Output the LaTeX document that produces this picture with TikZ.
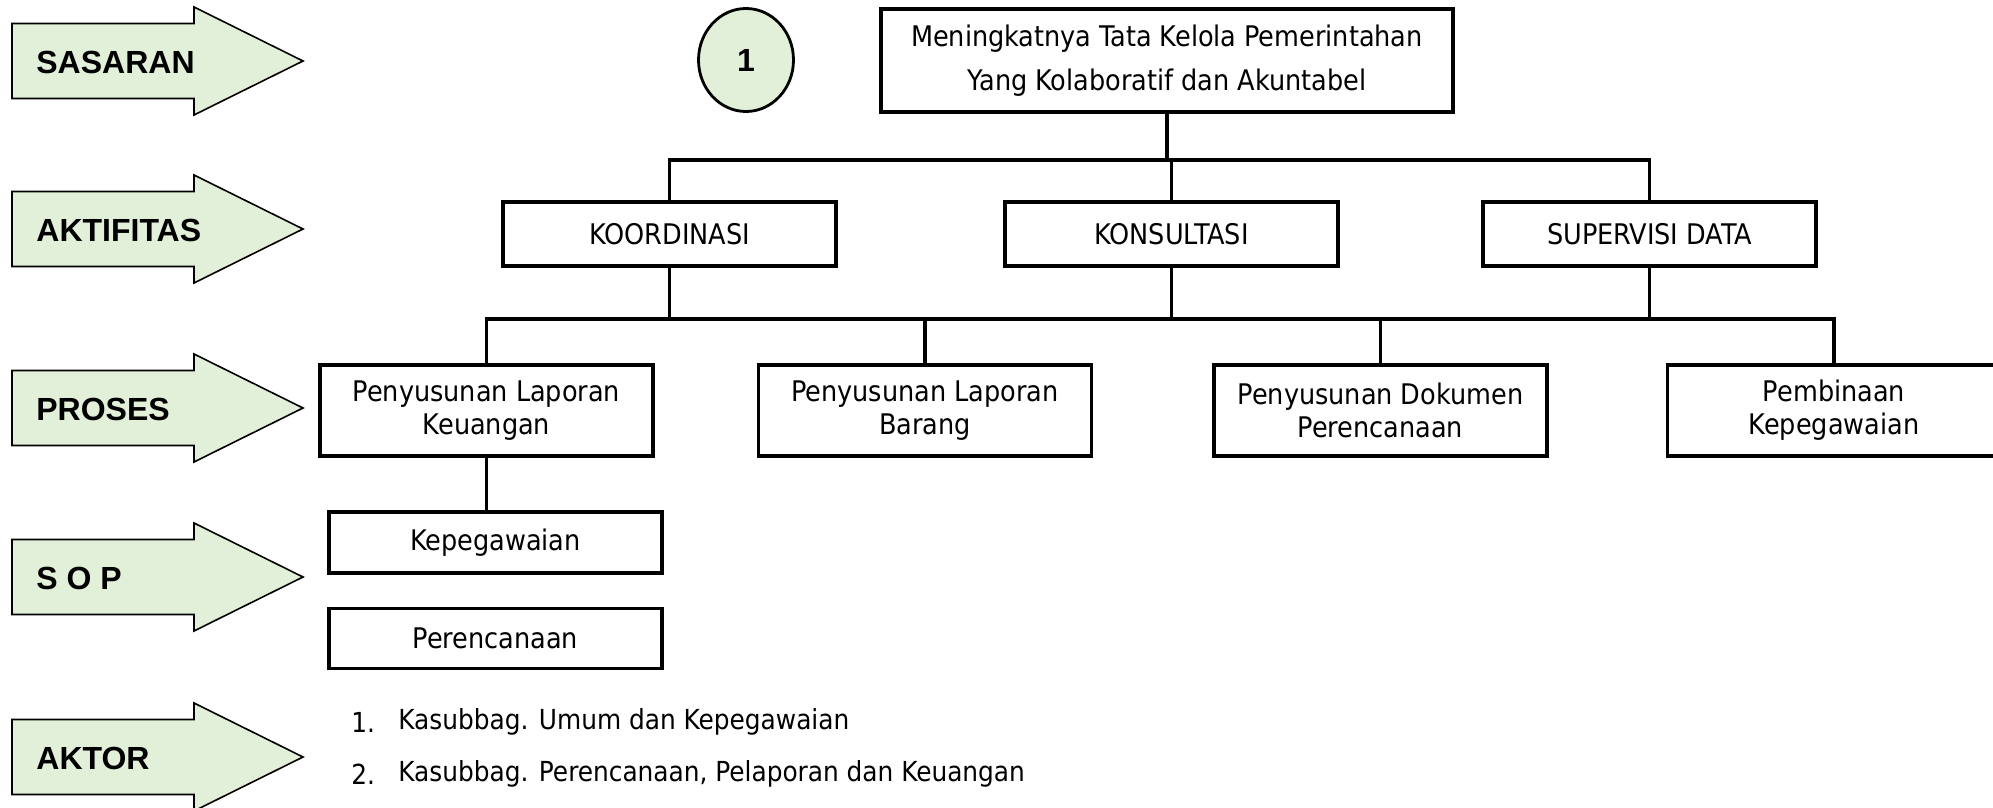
\documentclass[tikz,border=0pt]{standalone}
\usepackage{fontspec}
\usetikzlibrary{positioning,shapes.geometric}
\newfontfamily\boxfont{DejaVu Sans Condensed}
\newfontfamily\tagfont{Liberation Sans}
\definecolor{tagfill}{HTML}{E2EFD9}

\begin{document}
\begin{tikzpicture}[x=0.5pt, y=-0.5pt,
  box/.style={draw, line width=1.6pt, minimum width=166.5pt, align=center, inner sep=2pt,
    font=\boxfont\fontsize{14.2}{16.5}\selectfont},
  tag/.style={anchor=west, inner sep=0pt, font=\tagfont\bfseries\fontsize{16}{18}\selectfont},
  item/.style={anchor=west, inner sep=0pt, font=\boxfont\fontsize{13.8}{16.5}\selectfont},
  link/.style={line width=1.6pt}]
  \useasboundingbox (0,0) rectangle (1993,808);

  % left side arrows
  \foreach \yc/\txt/\nm in {61/SASARAN/sas, 229/AKTIFITAS/akt, 408/PROSES/pro, 577/S O P/sop, 757/AKTOR/aktor} {
    \draw[fill=tagfill, line width=0.8pt] (12,\yc-37.5) -- (194,\yc-37.5) -- (194,\yc-54)
      -- (303,\yc) -- (194,\yc+54) -- (194,\yc+37.5) -- (12,\yc+37.5) -- cycle;
    \node[tag] (tag-\nm) at (36,\yc+1) {\txt};
  }

  % sasaran
  \node[ellipse, draw, fill=tagfill, line width=1.4pt, minimum width=47.5pt, minimum height=51.5pt,
    font=\tagfont\bfseries\fontsize{16}{18}\selectfont] (num) at (746,60) {1};
  \node[box, minimum width=286pt, minimum height=51.5pt, font=\boxfont\fontsize{14.2}{22}\selectfont]
    (goal) at (1167,60.5) {Meningkatnya Tata Kelola Pemerintahan\\Yang Kolaboratif dan Akuntabel};

  % aktifitas
  \node[box, minimum height=32pt] (koord) at (669.5,234) {KOORDINASI};
  \node[box, minimum height=32pt] (kons) at (1171.5,234) {KONSULTASI};
  \node[box, minimum height=32pt] (sup) at (1649.5,234) {SUPERVISI DATA};

  % proses
  \node[box, minimum height=45.5pt] (plk) at (486.5,410.5) {Penyusunan Laporan\\Keuangan};
  \node[box, minimum height=45.5pt] (plb) at (925,410.5) {Penyusunan Laporan\\Barang};
  \node[box, minimum height=45.5pt] (pdp) at (1380.5,410.5) {Penyusunan Dokumen\\Perencanaan};
  \node[box, minimum height=45.5pt] (pk) at (1834,410.5) {Pembinaan\\Kepegawaian};

  % sop
  \node[box, minimum height=30.5pt] (kepeg) at (495.5,542.5) {Kepegawaian};
  \node[box, minimum height=30pt, below=16pt of kepeg] (renc) {Perencanaan};

  % aktor
  \node[item] (num1) at (351,722) {1.};
  \node[item] (akt1) at (398,722) {Kasubbag. Umum dan Kepegawaian};
  \node[item] (num2) at (351,774) {2.};
  \node[item] (akt2) at (398,774) {Kasubbag. Perencanaan, Pelaporan dan Keuangan};

  % connectors
  \coordinate (bar1) at (1172,160);
  \coordinate (bar2) at (1172,319);
  \draw[link] (goal.south) -- (goal.south |- bar1);
  \draw[link] (koord.north) |- (sup.north |- bar1) -- (sup.north);
  \draw[link] (kons.north) -- (kons.north |- bar1);
  \draw[link] (koord.south) -- (koord.south |- bar2);
  \draw[link] (kons.south) -- (kons.south |- bar2);
  \draw[link] (sup.south) -- (sup.south |- bar2);
  \draw[link] (plk.north) |- (pk.north |- bar2) -- (pk.north);
  \draw[link] (plb.north) -- (plb.north |- bar2);
  \draw[link] (pdp.north) -- (pdp.north |- bar2);
  \draw[link] (plk.south) -- (plk.south |- kepeg.north);
\end{tikzpicture}
\end{document}
